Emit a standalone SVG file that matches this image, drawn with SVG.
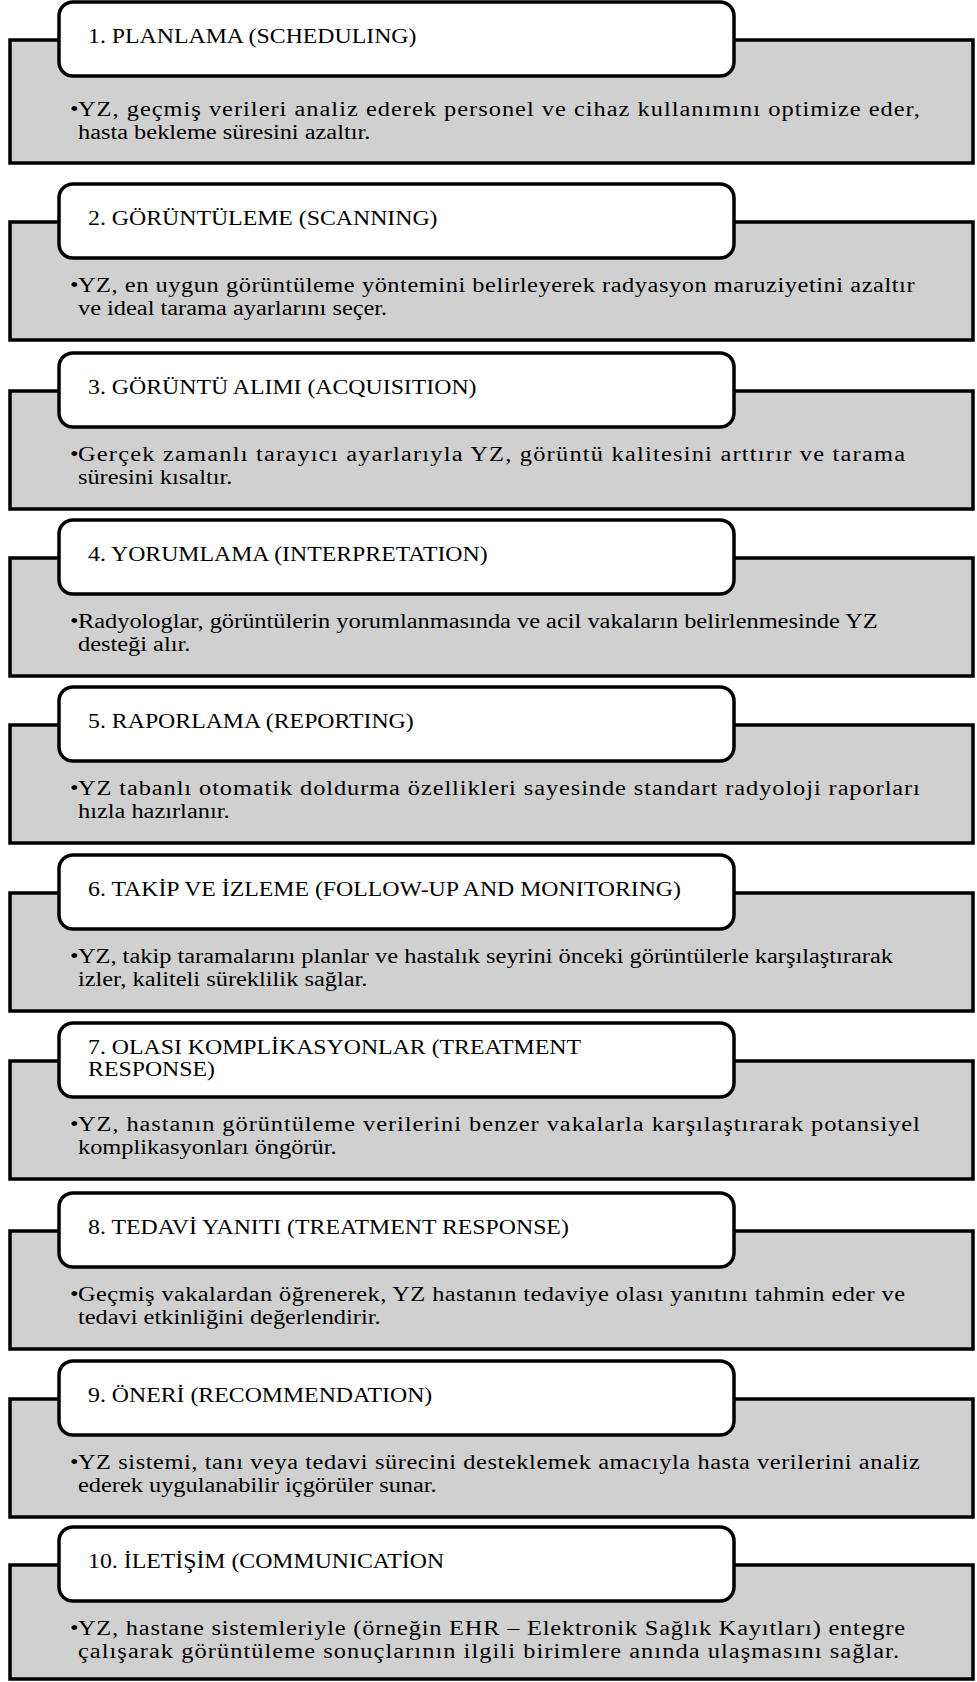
<svg xmlns="http://www.w3.org/2000/svg" width="977" height="1682" viewBox="0 0 977 1682">
<style>
.g{fill:#d0d0d0;stroke:#000;stroke-width:3.5}
.w{fill:#fff;stroke:#000;stroke-width:3.5}
.h{font-family:"Liberation Serif","Times New Roman",serif;font-size:20px;fill:#000}
.t{font-family:"Liberation Serif","Times New Roman",serif;font-size:20.5px;fill:#000}
</style>
<rect width="977" height="1682" fill="#fff"/>
<g id="box1" transform="translate(0,2)">
<rect class="g" x="10" y="38" width="963" height="123"/>
<rect class="w" x="59" y="0" width="675" height="74" rx="14"/>
<g transform="scale(1.19,1)">
<text class="h" x="74" y="41">1. PLANLAMA (SCHEDULING)</text>
<text class="t" x="58.8" y="114">•</text>
<text class="t" x="65.5" y="114" textLength="707.5" lengthAdjust="spacing">YZ, geçmiş verileri analiz ederek personel ve cihaz kullanımını optimize eder,</text>
<text class="t" x="65.5" y="137">hasta bekleme süresini azaltır.</text>
</g>
</g>
<g id="box2" transform="translate(0,184)">
<rect class="g" x="10" y="38" width="963" height="118"/>
<rect class="w" x="59" y="0" width="675" height="74" rx="14"/>
<g transform="scale(1.19,1)">
<text class="h" x="74" y="41">2. GÖRÜNTÜLEME (SCANNING)</text>
<text class="t" x="58.8" y="108">•</text>
<text class="t" x="65.5" y="108" textLength="703" lengthAdjust="spacing">YZ, en uygun görüntüleme yöntemini belirleyerek radyasyon maruziyetini azaltır</text>
<text class="t" x="65.5" y="131">ve ideal tarama ayarlarını seçer.</text>
</g>
</g>
<g id="box3" transform="translate(0,353)">
<rect class="g" x="10" y="38" width="963" height="118"/>
<rect class="w" x="59" y="0" width="675" height="74" rx="14"/>
<g transform="scale(1.19,1)">
<text class="h" x="74" y="41">3. GÖRÜNTÜ ALIMI (ACQUISITION)</text>
<text class="t" x="58.8" y="108">•</text>
<text class="t" x="65.5" y="108" textLength="695" lengthAdjust="spacing">Gerçek zamanlı tarayıcı ayarlarıyla YZ, görüntü kalitesini arttırır ve tarama</text>
<text class="t" x="65.5" y="131">süresini kısaltır.</text>
</g>
</g>
<g id="box4" transform="translate(0,520)">
<rect class="g" x="10" y="38" width="963" height="118"/>
<rect class="w" x="59" y="0" width="675" height="74" rx="14"/>
<g transform="scale(1.19,1)">
<text class="h" x="74" y="41">4. YORUMLAMA (INTERPRETATION)</text>
<text class="t" x="58.8" y="108">•</text>
<text class="t" x="65.5" y="108">Radyologlar, görüntülerin yorumlanmasında ve acil vakaların belirlenmesinde YZ</text>
<text class="t" x="65.5" y="131">desteği alır.</text>
</g>
</g>
<g id="box5" transform="translate(0,687)">
<rect class="g" x="10" y="38" width="963" height="118"/>
<rect class="w" x="59" y="0" width="675" height="74" rx="14"/>
<g transform="scale(1.19,1)">
<text class="h" x="74" y="41">5. RAPORLAMA (REPORTING)</text>
<text class="t" x="58.8" y="108">•</text>
<text class="t" x="65.5" y="108" textLength="707.5" lengthAdjust="spacing">YZ tabanlı otomatik doldurma özellikleri sayesinde standart radyoloji raporları</text>
<text class="t" x="65.5" y="131">hızla hazırlanır.</text>
</g>
</g>
<g id="box6" transform="translate(0,855)">
<rect class="g" x="10" y="38" width="963" height="118"/>
<rect class="w" x="59" y="0" width="675" height="74" rx="14"/>
<g transform="scale(1.19,1)">
<text class="h" x="74" y="41">6. TAKİP VE İZLEME (FOLLOW-UP AND MONITORING)</text>
<text class="t" x="58.8" y="108">•</text>
<text class="t" x="65.5" y="108">YZ, takip taramalarını planlar ve hastalık seyrini önceki görüntülerle karşılaştırarak</text>
<text class="t" x="65.5" y="131">izler, kaliteli süreklilik sağlar.</text>
</g>
</g>
<g id="box7" transform="translate(0,1023)">
<rect class="g" x="10" y="38" width="963" height="118"/>
<rect class="w" x="59" y="0" width="675" height="74" rx="14"/>
<g transform="scale(1.19,1)">
<text class="h" x="74" y="31">7. OLASI KOMPLİKASYONLAR (TREATMENT</text>
<text class="h" x="74" y="53">RESPONSE)</text>
<text class="t" x="58.8" y="108">•</text>
<text class="t" x="65.5" y="108" textLength="707.5" lengthAdjust="spacing">YZ, hastanın görüntüleme verilerini benzer vakalarla karşılaştırarak potansiyel</text>
<text class="t" x="65.5" y="131">komplikasyonları öngörür.</text>
</g>
</g>
<g id="box8" transform="translate(0,1193)">
<rect class="g" x="10" y="38" width="963" height="118"/>
<rect class="w" x="59" y="0" width="675" height="74" rx="14"/>
<g transform="scale(1.19,1)">
<text class="h" x="74" y="41">8. TEDAVİ YANITI (TREATMENT RESPONSE)</text>
<text class="t" x="58.8" y="108">•</text>
<text class="t" x="65.5" y="108" textLength="695" lengthAdjust="spacing">Geçmiş vakalardan öğrenerek, YZ hastanın tedaviye olası yanıtını tahmin eder ve</text>
<text class="t" x="65.5" y="131">tedavi etkinliğini değerlendirir.</text>
</g>
</g>
<g id="box9" transform="translate(0,1361)">
<rect class="g" x="10" y="38" width="963" height="118"/>
<rect class="w" x="59" y="0" width="675" height="74" rx="14"/>
<g transform="scale(1.19,1)">
<text class="h" x="74" y="41">9. ÖNERİ (RECOMMENDATION)</text>
<text class="t" x="58.8" y="108">•</text>
<text class="t" x="65.5" y="108" textLength="707.5" lengthAdjust="spacing">YZ sistemi, tanı veya tedavi sürecini desteklemek amacıyla hasta verilerini analiz</text>
<text class="t" x="65.5" y="131">ederek uygulanabilir içgörüler sunar.</text>
</g>
</g>
<g id="box10" transform="translate(0,1527)">
<rect class="g" x="10" y="38" width="963" height="114"/>
<rect class="w" x="59" y="0" width="675" height="74" rx="14"/>
<g transform="scale(1.19,1)">
<text class="h" x="74" y="41">10. İLETİŞİM (COMMUNICATİON</text>
<text class="t" x="58.8" y="108">•</text>
<text class="t" x="65.5" y="108" textLength="695" lengthAdjust="spacing">YZ, hastane sistemleriyle (örneğin EHR – Elektronik Sağlık Kayıtları) entegre</text>
<text class="t" x="65.5" y="131" textLength="690" lengthAdjust="spacing">çalışarak görüntüleme sonuçlarının ilgili birimlere anında ulaşmasını sağlar.</text>
</g>
</g>
<g id="connectors"></g>
</svg>
